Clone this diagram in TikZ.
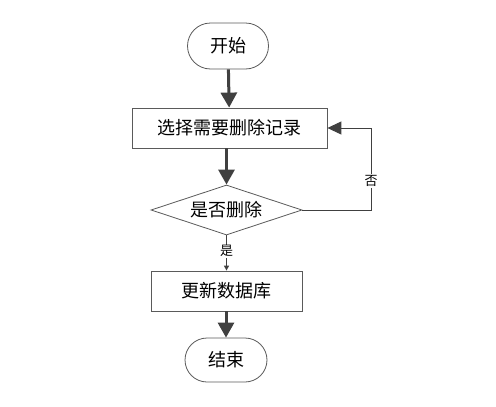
\documentclass[tikz,border=0pt]{standalone}
\usepackage{fontspec}
\newfontfamily\cjk{Noto Sans CJK SC}
\usetikzlibrary{shapes.geometric,arrows.meta}
\definecolor{linegray}{HTML}{404040}
\definecolor{edgegray}{HTML}{5A5A5A}
\tikzset{
  term/.style={draw=edgegray, line width=0.8pt, rounded corners=23pt, minimum width=81pt, minimum height=46pt, font=\cjk\fontsize{18}{20}\selectfont, fill=white},
  procbox/.style={draw=edgegray, line width=0.8pt, minimum height=40pt, font=\cjk\fontsize{18}{20}\selectfont, fill=white},
  decis/.style={draw=edgegray, line width=0.8pt, diamond, aspect=3, inner sep=0pt, minimum width=151pt, minimum height=50pt, font=\cjk\fontsize{18}{20}\selectfont, fill=white},
  bigarrow/.style={draw=linegray, line width=3pt, -{Triangle[length=15pt,width=16pt]}},
  thinarrow/.style={draw=linegray, line width=1pt, -{Triangle[length=14pt,width=13pt]}},
  smallarrow/.style={draw=linegray, line width=1.4pt, -{Triangle[length=5pt,width=5pt]}},
  lbl/.style={font=\cjk\fontsize{13}{15}\selectfont, fill=white, inner sep=1pt}
}
\begin{document}
\begin{tikzpicture}[x=1pt,y=-1pt]
\useasboundingbox (0,0) rectangle (496,407);
\node[term] (start) at (228,46) {开始};
\node[procbox, minimum width=195pt] (sel) at (229.5,128) {选择需要删除记录};
\node[decis] (dec) at (226.5,210) {是否删除};
\node[procbox, minimum width=151pt] (upd) at (226.5,291) {更新数据库};
\node[term, minimum height=44pt, rounded corners=22pt, minimum width=82pt] (end) at (226,360) {结束};
\coordinate (c1) at (371,210);
\coordinate (c2) at (371,128);
\draw[bigarrow] (start) -- (sel);
\draw[bigarrow] (sel.south -| dec.north) -- (dec.north);
\draw[smallarrow] (dec.south) -- (upd.north) node[lbl, pos=0.45] {是};
\draw[bigarrow] (upd.south -| end.north) -- (end.north);
\draw[thinarrow] (dec.east) -- (c1) -- (c2) -- (sel.east);
\node[lbl] (no) at (371,181) {否};
\end{tikzpicture}
\end{document}
